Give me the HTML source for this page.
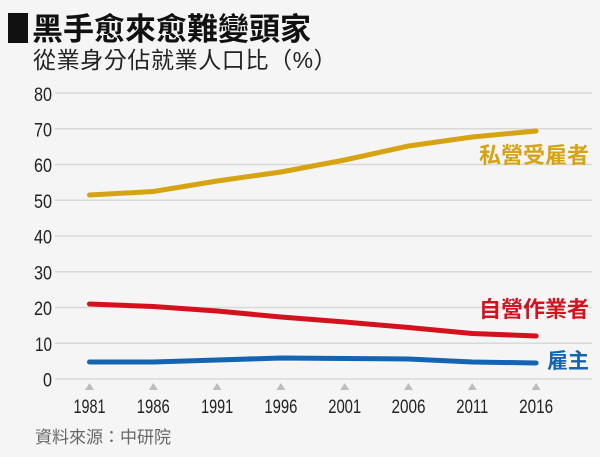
<!DOCTYPE html>
<html>
<head>
<meta charset="utf-8">
<style>
  html, body { margin:0; padding:0; background:#f5f5f5; }
  body { width:600px; height:457px; overflow:hidden; }
  svg { display:block; }
  .cjk { font-family: "Liberation Sans", "Noto Sans CJK TC", "Noto Sans CJK SC", sans-serif; }
  .num { font-family: "Liberation Sans", sans-serif; fill:#222; font-size:19.5px; }
</style>
</head>
<body>
<svg width="600" height="457" viewBox="0 0 600 457" xmlns="http://www.w3.org/2000/svg">
  <rect width="600" height="457" fill="#f5f5f5"/>

  <!-- Title -->
  <rect x="8" y="13" width="20" height="30" fill="#111"/>
  <text x="32" y="40" class="cjk" font-size="31" font-weight="bold" fill="#111">黑手愈來愈難變頭家</text>
  <text x="33" y="68" class="cjk" font-size="23" fill="#222" letter-spacing="0.6">從業身分佔就業人口比（%）</text>

  <!-- Gridlines -->
  <g stroke="#d9d9d9" stroke-width="1.5">
    <line x1="55" y1="93" x2="592" y2="93"/>
    <line x1="55" y1="128.75" x2="592" y2="128.75"/>
    <line x1="55" y1="164.5" x2="592" y2="164.5"/>
    <line x1="55" y1="200.25" x2="592" y2="200.25"/>
    <line x1="55" y1="236" x2="592" y2="236"/>
    <line x1="55" y1="271.75" x2="592" y2="271.75"/>
    <line x1="55" y1="307.5" x2="592" y2="307.5"/>
    <line x1="55" y1="343.25" x2="592" y2="343.25"/>
    <line x1="55" y1="379" x2="592" y2="379"/>
  </g>

  <!-- Y labels -->
  <g class="num" text-anchor="end">
    <text x="52" y="101" textLength="18" lengthAdjust="spacingAndGlyphs">80</text>
    <text x="52" y="136.5" textLength="18" lengthAdjust="spacingAndGlyphs">70</text>
    <text x="52" y="172" textLength="18" lengthAdjust="spacingAndGlyphs">60</text>
    <text x="52" y="208" textLength="18" lengthAdjust="spacingAndGlyphs">50</text>
    <text x="52" y="243.5" textLength="18" lengthAdjust="spacingAndGlyphs">40</text>
    <text x="52" y="279.5" textLength="18" lengthAdjust="spacingAndGlyphs">30</text>
    <text x="52" y="315" textLength="18" lengthAdjust="spacingAndGlyphs">20</text>
    <text x="52" y="351" textLength="17" lengthAdjust="spacingAndGlyphs">10</text>
    <text x="52" y="386.5" textLength="9" lengthAdjust="spacingAndGlyphs">0</text>
  </g>

  <!-- Tick triangles -->
  <g fill="#bdbdbd">
    <polygon points="89.5,383 94,390 85,390"/>
    <polygon points="153.3,383 157.8,390 148.8,390"/>
    <polygon points="217.1,383 221.6,390 212.6,390"/>
    <polygon points="280.9,383 285.4,390 276.4,390"/>
    <polygon points="344.7,383 349.2,390 340.2,390"/>
    <polygon points="408.5,383 413,390 404,390"/>
    <polygon points="472.3,383 476.8,390 467.8,390"/>
    <polygon points="536.1,383 540.6,390 531.6,390"/>
  </g>

  <!-- X labels -->
  <g class="num" text-anchor="middle">
    <text x="89.5" y="413" textLength="32" lengthAdjust="spacingAndGlyphs">1981</text>
    <text x="153.3" y="413" textLength="33" lengthAdjust="spacingAndGlyphs">1986</text>
    <text x="217.1" y="413" textLength="32" lengthAdjust="spacingAndGlyphs">1991</text>
    <text x="280.9" y="413" textLength="33" lengthAdjust="spacingAndGlyphs">1996</text>
    <text x="344.7" y="413" textLength="33" lengthAdjust="spacingAndGlyphs">2001</text>
    <text x="408.5" y="413" textLength="34" lengthAdjust="spacingAndGlyphs">2006</text>
    <text x="472.3" y="413" textLength="32" lengthAdjust="spacingAndGlyphs">2011</text>
    <text x="536.1" y="413" textLength="34" lengthAdjust="spacingAndGlyphs">2016</text>
  </g>

  <!-- Series -->
  <g fill="none" stroke-width="5" stroke-linecap="round" stroke-linejoin="round">
    <polyline stroke="#d6a312" points="89.5,195 153.3,191.5 217.1,181 280.9,172 344.7,160 408.5,146 472.3,137 536.1,131"/>
    <polyline stroke="#d3121e" points="89.5,304 153.3,306.5 217.1,311 280.9,317 344.7,322 408.5,327.5 472.3,333.5 536.1,336"/>
    <polyline stroke="#1464b2" points="89.5,362 153.3,362 217.1,360 280.9,358 344.7,358.5 408.5,359 472.3,362 536.1,363"/>
  </g>

  <!-- Series labels -->
  <g class="cjk" text-anchor="end" font-weight="bold">
    <text x="589" y="163" font-size="22" fill="#d6a312">私營受雇者</text>
    <text x="589" y="317" font-size="22" fill="#d3121e">自營作業者</text>
    <text x="589" y="368" font-size="21" fill="#1464b2">雇主</text>
  </g>

  <!-- Source -->
  <text x="35" y="443" class="cjk" font-size="17" fill="#666">資料來源：中研院</text>
</svg>
</body>
</html>
